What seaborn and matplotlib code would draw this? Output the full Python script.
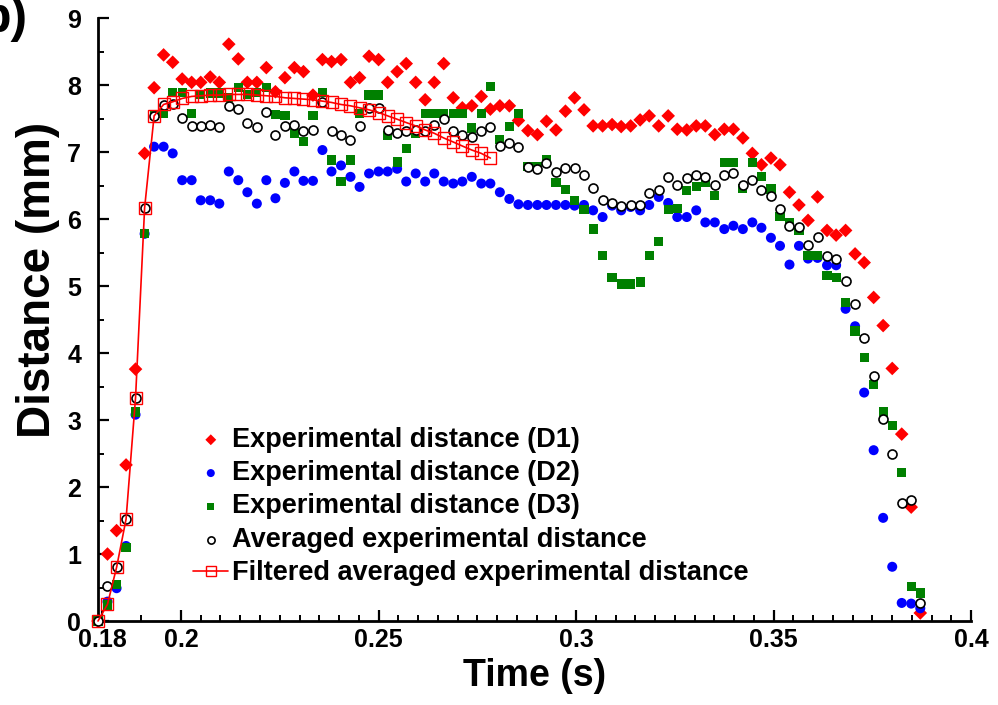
import matplotlib
matplotlib.use("Agg")
import matplotlib.pyplot as plt
import seaborn as sns
from matplotlib.ticker import FixedLocator, MultipleLocator

# ---------------- data ----------------
time_s = [0.1790, 0.1814, 0.1837, 0.1861, 0.1885, 0.1908, 0.1932, 0.1956, 0.1979, 0.2003,
          0.2027, 0.2050, 0.2074, 0.2097, 0.2121, 0.2145, 0.2168, 0.2192, 0.2216, 0.2239,
          0.2263, 0.2287, 0.2310, 0.2334, 0.2358, 0.2381, 0.2405, 0.2429, 0.2452, 0.2476,
          0.2500, 0.2523, 0.2547, 0.2570, 0.2594, 0.2618, 0.2641, 0.2665, 0.2689, 0.2712,
          0.2736, 0.2760, 0.2783, 0.2807, 0.2831, 0.2854, 0.2878, 0.2902, 0.2925, 0.2949,
          0.2973, 0.2996, 0.3020, 0.3043, 0.3067, 0.3091, 0.3114, 0.3138, 0.3162, 0.3185,
          0.3209, 0.3233, 0.3256, 0.3280, 0.3304, 0.3327, 0.3351, 0.3375, 0.3398, 0.3422,
          0.3446, 0.3469, 0.3493, 0.3516, 0.3540, 0.3564, 0.3587, 0.3611, 0.3635, 0.3658,
          0.3682, 0.3706, 0.3729, 0.3753, 0.3777, 0.3800, 0.3824, 0.3848, 0.3871]

dist_d1 = [0.00, 1.00, 1.35, 2.33, 3.76, 6.98, 7.96, 8.45, 8.34, 8.09,
           8.04, 8.04, 8.12, 8.04, 8.61, 8.39, 8.04, 8.04, 8.26, 7.90,
           8.11, 8.26, 8.20, 7.85, 8.38, 8.35, 8.38, 8.04, 8.11, 8.43,
           8.38, 8.04, 8.20, 8.32, 8.04, 7.78, 8.04, 8.32, 7.81, 7.66,
           7.69, 7.83, 7.64, 7.69, 7.69, 7.47, 7.32, 7.26, 7.46, 7.33,
           7.61, 7.81, 7.63, 7.39, 7.39, 7.41, 7.38, 7.39, 7.48, 7.54,
           7.39, 7.54, 7.34, 7.33, 7.39, 7.39, 7.26, 7.34, 7.34, 7.21,
           6.98, 6.81, 6.91, 6.81, 6.40, 6.21, 5.98, 6.33, 5.83, 5.76,
           5.83, 5.48, 5.35, 4.83, 4.41, 3.77, 2.79, 1.70, 0.12]

dist_d2 = [0.00, 0.29, 0.49, 1.12, 3.08, 5.78, 7.08, 7.08, 6.98, 6.58,
           6.58, 6.28, 6.28, 6.23, 6.71, 6.58, 6.40, 6.23, 6.58, 6.31,
           6.54, 6.71, 6.57, 6.57, 7.03, 6.71, 6.80, 6.63, 6.48, 6.68,
           6.71, 6.71, 6.75, 6.56, 6.68, 6.56, 6.68, 6.56, 6.53, 6.56,
           6.63, 6.53, 6.53, 6.40, 6.30, 6.22, 6.21, 6.21, 6.21, 6.21,
           6.21, 6.20, 6.21, 6.13, 6.03, 6.20, 6.13, 6.18, 6.13, 6.21,
           6.33, 6.24, 6.03, 6.03, 6.13, 5.95, 5.95, 5.85, 5.90, 5.85,
           5.95, 5.87, 5.72, 5.60, 5.32, 5.60, 5.41, 5.42, 5.31, 5.31,
           4.66, 4.40, 3.41, 2.55, 1.54, 0.81, 0.27, 0.26, 0.19]

dist_d3 = [0.00, 0.24, 0.54, 1.10, 3.12, 5.78, 7.55, 7.58, 7.89, 7.89,
           7.58, 7.86, 7.88, 7.88, 7.81, 7.96, 7.86, 7.89, 7.96, 7.56,
           7.55, 7.28, 7.16, 7.55, 7.89, 6.88, 6.56, 6.88, 7.58, 7.85,
           7.85, 7.25, 6.85, 7.05, 7.28, 7.58, 7.58, 7.58, 7.58, 7.58,
           7.36, 7.58, 7.98, 7.19, 7.38, 7.58, 6.79, 6.79, 6.88, 6.55,
           6.44, 6.28, 6.14, 5.85, 5.45, 5.13, 5.03, 5.03, 5.06, 5.45,
           5.66, 6.14, 6.16, 6.43, 6.49, 6.54, 6.35, 6.84, 6.84, 6.46,
           6.84, 6.64, 6.45, 6.04, 5.94, 5.83, 5.45, 5.45, 5.16, 5.13,
           4.75, 4.33, 3.93, 3.53, 3.12, 2.92, 2.22, 0.51, 0.42]

dist_avg = [0.00, 0.52, 0.80, 1.52, 3.33, 6.16, 7.54, 7.70, 7.71, 7.51,
            7.39, 7.39, 7.41, 7.38, 7.69, 7.64, 7.43, 7.38, 7.60, 7.25,
            7.39, 7.41, 7.31, 7.33, 7.75, 7.31, 7.26, 7.18, 7.39, 7.65,
            7.66, 7.33, 7.28, 7.31, 7.33, 7.31, 7.41, 7.49, 7.31, 7.26,
            7.23, 7.31, 7.38, 7.09, 7.13, 7.08, 6.78, 6.75, 6.84, 6.70,
            6.76, 6.76, 6.66, 6.46, 6.29, 6.24, 6.20, 6.21, 6.21, 6.39,
            6.44, 6.63, 6.51, 6.61, 6.66, 6.63, 6.51, 6.66, 6.69, 6.51,
            6.59, 6.44, 6.35, 6.15, 5.90, 5.88, 5.62, 5.73, 5.45, 5.41,
            5.07, 4.73, 4.22, 3.65, 3.02, 2.50, 1.76, 1.81, 0.27]

dist_filtered = [0.00, 0.25, 0.80, 1.52, 3.33, 6.17, 7.54, 7.71, 7.75, 7.80,
                 7.83, 7.84, 7.85, 7.85, 7.86, 7.86, 7.86, 7.85, 7.84, 7.83,
                 7.81, 7.80, 7.79, 7.78, 7.76, 7.74, 7.71, 7.69, 7.66, 7.63,
                 7.59, 7.54, 7.49, 7.44, 7.39, 7.33, 7.28, 7.21, 7.15, 7.09,
                 7.03, 6.98, 6.91]
time_filtered = time_s[:len(dist_filtered)]

series_labels = ["Experimental distance (D1)",
                 "Experimental distance (D2)",
                 "Experimental distance (D3)",
                 "Averaged experimental distance",
                 "Filtered averaged experimental distance"]

x_ticks = [0.18, 0.2, 0.25, 0.3, 0.35, 0.4]
x_tick_labels = ["0.18", "0.2", "0.25", "0.3", "0.35", "0.4"]
x_minor = [0.19, 0.205, 0.21, 0.215, 0.22, 0.225, 0.23, 0.235, 0.24, 0.245,
           0.255, 0.26, 0.265, 0.27, 0.275, 0.28, 0.285, 0.29, 0.295,
           0.305, 0.31, 0.315, 0.32, 0.325, 0.33, 0.335, 0.34, 0.345,
           0.355, 0.36, 0.365, 0.37, 0.375, 0.38, 0.385, 0.39, 0.395]

# ---------------- style ----------------
sns.set_style("ticks")
plt.rcParams["font.family"] = ["Liberation Sans", "DejaVu Sans"]
plt.rcParams["font.weight"] = "bold"
plt.rcParams["axes.labelweight"] = "bold"
plt.rcParams["text.color"] = "black"
plt.rcParams["axes.labelcolor"] = "black"
plt.rcParams["xtick.color"] = "black"
plt.rcParams["ytick.color"] = "black"

fig = plt.figure(figsize=(9.98, 7.05), dpi=100)
ax = fig.add_axes([0.0982, 0.1191, 0.875, 0.8553])

sns.scatterplot(x=time_s, y=dist_d1, marker="D", color="#ff0000", s=48,
                edgecolor="none", label=series_labels[0], ax=ax, zorder=3,
                clip_on=False)
sns.scatterplot(x=time_s, y=dist_d2, marker="o", color="#0000ff", s=52,
                edgecolor="none", label=series_labels[1], ax=ax, zorder=3,
                clip_on=False)
sns.scatterplot(x=time_s, y=dist_d3, marker="s", color="#008000", s=44,
                edgecolor="none", label=series_labels[2], ax=ax, zorder=3,
                clip_on=False)
sns.scatterplot(x=time_s, y=dist_avg, marker="o", facecolor="white",
                edgecolor="black", linewidth=1.2, s=42,
                label=series_labels[3], ax=ax, zorder=4, clip_on=False)
sns.lineplot(x=time_filtered, y=dist_filtered, color="#ff0000", linewidth=1.2,
             marker="s", markersize=8.5, markerfacecolor="none",
             markeredgecolor="#ff0000", markeredgewidth=1.0, sort=False,
             label=series_labels[4], ax=ax, zorder=5, clip_on=False)

ax.set_xlim(0.179, 0.4)
ax.set_ylim(0, 9)
ax.xaxis.set_major_locator(FixedLocator(x_ticks))
ax.set_xticklabels(x_tick_labels)
ax.xaxis.set_minor_locator(FixedLocator(x_minor))
ax.yaxis.set_major_locator(MultipleLocator(1))
ax.yaxis.set_minor_locator(MultipleLocator(0.5))

sns.despine(ax=ax)
for sp in ("left", "bottom"):
    ax.spines[sp].set_linewidth(2.0)
    ax.spines[sp].set_color("black")

ax.tick_params(axis="both", which="major", direction="in", length=8, width=1.6,
               labelsize=18, colors="black")
ax.tick_params(axis="both", which="minor", direction="in", length=4.5, width=1.4,
               colors="black")
ax.tick_params(axis="x", which="major", pad=5)
ax.tick_params(axis="y", which="major", pad=12)
for lab in ax.get_xticklabels() + ax.get_yticklabels():
    lab.set_fontweight("bold")

ax.set_xlabel("Time (s)", fontsize=27, fontweight="bold", labelpad=4)
ax.set_ylabel("Distance (mm)", fontsize=33, fontweight="bold")
ax.yaxis.set_label_coords(-0.043, 0.565)

leg = ax.legend(loc="upper left", bbox_to_anchor=(0.109, 0.322), frameon=False,
                fontsize=19.5, handlelength=1.3, handletextpad=0.15,
                labelspacing=0.27, borderpad=0, borderaxespad=0,
                markerscale=0.8)
for t in leg.get_texts():
    t.set_fontweight("bold")
    t.set_color("black")

fig.text(0.028, 1.005, "b)", fontsize=36, fontweight="bold", ha="right",
         va="top")

fig.savefig("out.png", dpi=100)
